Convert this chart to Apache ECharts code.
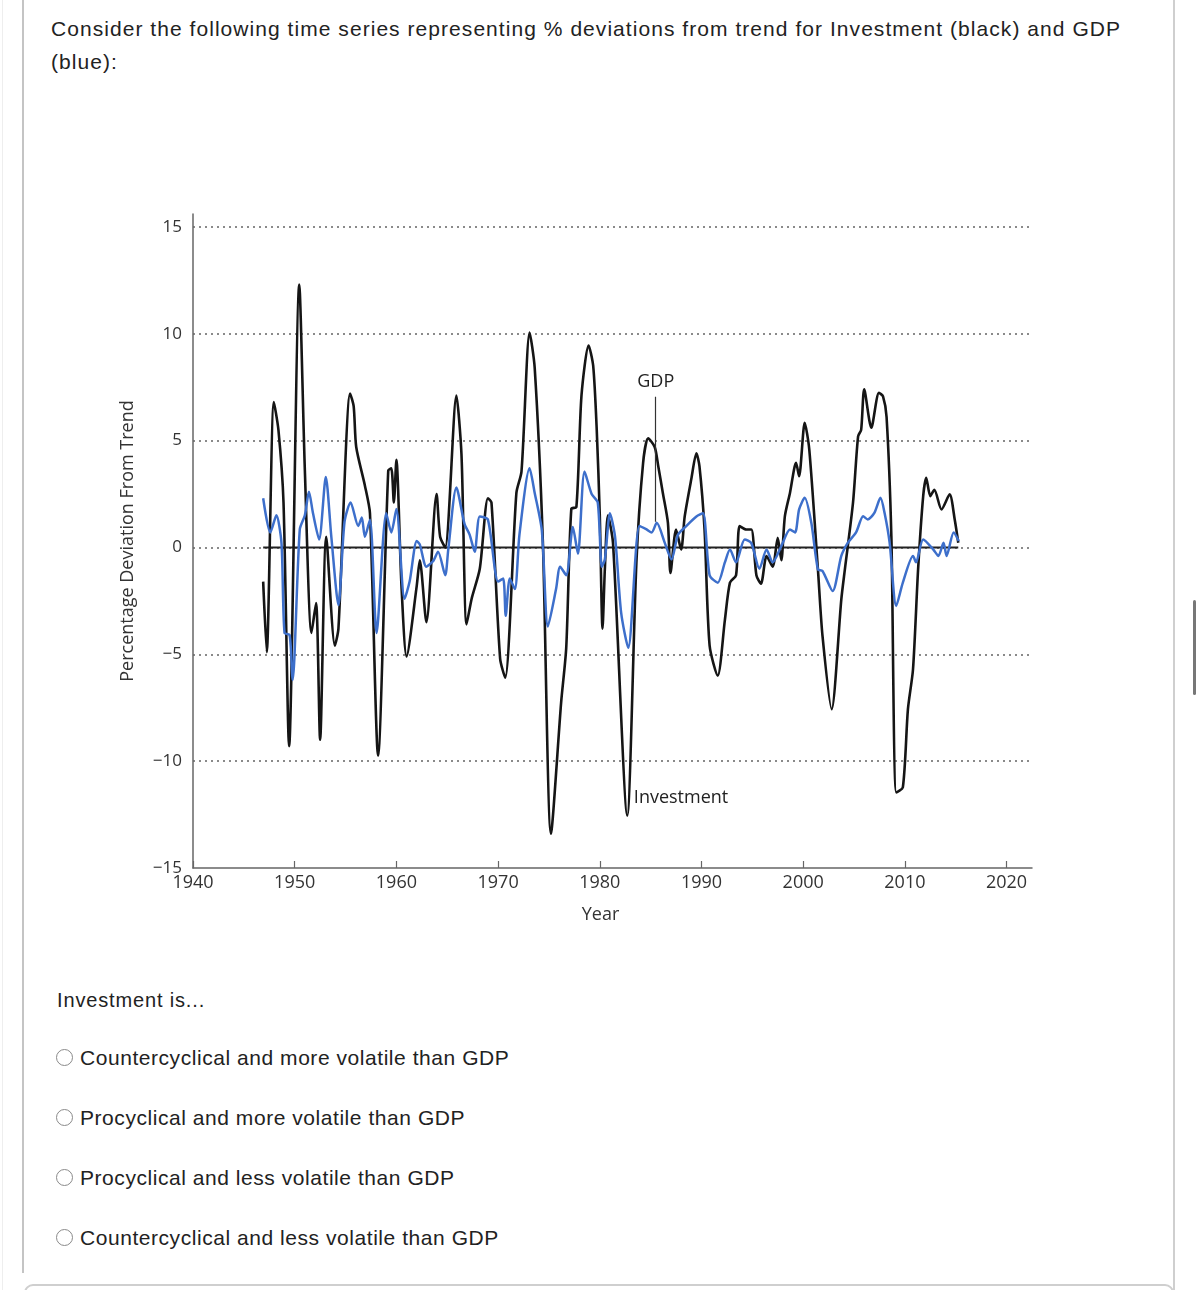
<!DOCTYPE html>
<html>
<head>
<meta charset="utf-8">
<script src="https://cdn.jsdelivr.net/npm/echarts@6/dist/echarts.min.js"></script>
<style>
html,body{margin:0;padding:0;background:#fff;}
body{width:1200px;height:1290px;overflow:hidden;position:relative;font-family:"Liberation Sans",Arial,sans-serif;color:#222;}
#chart{position:absolute;left:0;top:0;width:1200px;height:960px;}
.edgeL{position:absolute;left:22px;top:0;width:2px;height:1273px;background:#c4c4c4;}
.edgeL2{position:absolute;left:2px;top:0;width:1px;height:1290px;background:#eee;}
.edgeR{position:absolute;left:1173px;top:0;width:2px;height:1290px;background:#cfcfcf;}
.box{position:absolute;left:24px;top:1284px;width:1150px;height:30px;border:2px solid #cfcfcf;border-radius:9px;box-sizing:border-box;}
.scroll{position:absolute;left:1193px;top:600px;width:3px;height:95px;background:#777;border-radius:2px;}
.q{position:absolute;left:51px;top:12px;width:1095px;font-size:21px;line-height:33px;letter-spacing:1.05px;color:#222;}
.lead{position:absolute;left:57px;top:988px;font-size:20px;line-height:24px;letter-spacing:0.85px;color:#222;}
.opt{position:absolute;left:80px;font-size:21px;line-height:26px;letter-spacing:0.55px;color:#222;}
.radio{position:absolute;left:56px;width:15px;height:15px;border:1.5px solid #8a8a8a;border-radius:50%;background:#fff;}
</style>
</head>
<body>
<div class="edgeL2"></div>
<div class="edgeL"></div>
<div class="edgeR"></div>
<div class="scroll"></div>
<div class="q">Consider the following time series representing % deviations from trend for Investment (black) and GDP (blue):</div>
<div id="chart"></div>
<div class="lead">Investment is...</div>
<div class="radio" style="top:1049px"></div><div class="opt" style="top:1045px">Countercyclical and more volatile than GDP</div>
<div class="radio" style="top:1109px"></div><div class="opt" style="top:1105px">Procyclical and more volatile than GDP</div>
<div class="radio" style="top:1169px"></div><div class="opt" style="top:1165px">Procyclical and less volatile than GDP</div>
<div class="radio" style="top:1229px"></div><div class="opt" style="top:1225px">Countercyclical and less volatile than GDP</div>
<div class="box"></div>
<script>
// ---- Data ----
const xTicks = [1940, 1950, 1960, 1970, 1980, 1990, 2000, 2010, 2020];
const yTicks = [-15, -10, -5, 0, 5, 10, 15];
const gridValues = [-10, -5, 0, 5, 10, 15];

const invYears = [1946.9,1947.25,1947.95,1948.4,1948.9,1949.45,1950.45,1951.0,1951.65,1952.1,1952.5,1953.1,1953.95,1954.3,1955.45,1955.8,1956.05,1956.9,1957.4,1958.2,1959.2,1959.5,1959.75,1960.0,1960.5,1961.0,1962.0,1962.3,1962.95,1963.95,1964.3,1964.8,1965.9,1966.4,1966.9,1967.4,1968.2,1969.0,1969.35,1970.2,1970.7,1971.8,1972.3,1973.1,1973.6,1974.4,1975.2,1976.2,1976.7,1977.2,1977.7,1978.2,1978.9,1979.35,1979.7,1980.0,1980.27,1980.5,1980.8,1981.3,1982.7,1983.6,1984.26,1984.76,1985.4,1985.75,1986.2,1986.7,1986.95,1987.5,1988.0,1988.35,1989.0,1989.5,1989.8,1990.3,1990.8,1991.6,1992.3,1992.8,1993.4,1993.75,1994.4,1994.9,1995.4,1995.85,1996.4,1997.0,1997.5,1997.85,1998.2,1998.7,1999.3,1999.6,2000.15,2000.6,2001.45,2001.9,2002.8,2003.75,2004.1,2004.9,2005.4,2005.7,2006.0,2006.7,2007.45,2007.85,2008.2,2008.67,2009.15,2009.8,2010.3,2010.8,2011.3,2011.8,2012.1,2012.5,2012.9,2013.6,2014.4,2014.9,2015.25];
const invValues = [-1.6,-4.9,6.8,5.5,2.1,-9.3,12.3,3.6,-4.0,-2.6,-9.0,0.5,-4.6,-3.8,7.2,6.6,4.7,2.9,1.6,-9.75,3.6,3.7,2.1,4.1,-1.8,-5.1,-1.8,-0.6,-3.5,2.5,0.5,0.0,7.1,4.35,-3.6,-2.4,-1.0,2.3,2.1,-5.2,-6.1,2.55,3.55,10.05,8.4,0.3,-13.4,-7.25,-4.7,1.8,1.9,7.1,9.45,8.5,5.5,1.5,-3.8,-1.0,1.5,0.2,-12.55,-0.7,3.96,5.1,4.7,3.8,2.55,1.15,-1.2,0.84,-0.1,1.45,3.2,4.4,3.8,0.84,-4.6,-6.0,-3.4,-1.65,-1.3,1.0,0.84,0.84,-1.3,-1.7,-0.4,-0.9,0.45,-0.6,1.46,2.55,3.96,3.33,5.83,4.58,-1.03,-4.14,-7.57,-2.43,-1.03,2.09,5.2,5.5,7.4,5.6,7.23,7.07,6.1,0.53,-11.46,-11.23,-7.57,-5.7,-1.03,2.4,3.26,2.4,2.7,1.78,2.48,1.31,0.22];

const gdpYears = [1946.9,1947.6,1948.2,1948.7,1949.0,1949.5,1949.8,1950.5,1951.0,1951.4,1951.8,1952.4,1953.06,1953.6,1954.3,1954.9,1955.5,1956.25,1956.6,1956.9,1957.4,1958.05,1959.0,1959.5,1960.0,1960.8,1961.3,1962.0,1962.3,1962.95,1963.6,1964.1,1964.8,1965.1,1965.9,1966.7,1967.2,1967.7,1968.2,1969.0,1970.0,1970.5,1970.75,1971.15,1971.65,1972.1,1973.1,1973.6,1974.3,1974.9,1975.7,1976.1,1976.7,1977.35,1977.85,1978.5,1979.2,1979.8,1980.2,1980.5,1981.0,1981.5,1982.1,1982.8,1983.9,1984.6,1985.1,1985.6,1986.4,1987.05,1987.7,1988.5,1989.5,1990.15,1990.8,1991.6,1992.3,1992.8,1993.4,1994.25,1994.9,1995.7,1996.4,1997.0,1997.85,1998.7,1999.2,1999.6,2000.15,2000.8,2001.45,2001.9,2002.9,2003.75,2004.4,2005.2,2005.9,2006.35,2007.0,2007.6,2008.0,2008.5,2009.15,2009.8,2010.8,2011.1,2011.8,2012.8,2013.3,2013.8,2014.1,2014.8,2015.3];
const gdpValues = [2.3,0.7,1.5,0.2,-4.0,-4.1,-6.2,0.84,1.5,2.6,1.6,0.37,3.3,0.5,-2.7,1.2,2.1,1.0,1.4,0.5,1.3,-4.0,1.6,0.7,1.8,-2.4,-1.6,0.3,0.14,-0.9,-0.65,-0.2,-1.3,-0.1,2.8,1.1,0.6,-0.2,1.45,1.3,-1.6,-1.45,-3.2,-1.45,-1.95,0.6,3.7,2.55,0.8,-3.7,-1.95,-0.9,-1.3,0.95,-0.3,3.55,2.5,2.1,-0.9,-0.56,1.6,0.5,-3.05,-4.7,1.0,0.84,0.7,1.15,0.2,-0.56,0.6,1.0,1.45,1.6,-1.3,-1.65,-0.7,-0.1,-0.7,0.37,0.2,-1.0,-0.1,-0.7,0.06,0.84,0.7,1.78,2.32,1.15,-1.03,-1.1,-2.04,-0.4,0.22,0.7,1.46,1.31,1.62,2.32,1.62,0.22,-2.74,-1.65,-0.4,-0.7,0.37,-0.1,-0.4,0.22,-0.4,0.7,0.3];

const gdpLabel = {text: 'GDP', year: 1985.5, value: 7.75, lineTop: 7.05, lineBottom: 1.2};
const invLabel = {text: 'Investment', year: 1983.3, value: -11.73};

// ---- Build ----
const invData = invYears.map((y, i) => [y, invValues[i]]);
const gdpData = gdpYears.map((y, i) => [y, gdpValues[i]]);
const zeroData = [[invYears[0], 0], [invYears[invYears.length - 1], 0]];
const fmtY = v => (v < 0 ? '\u2212' + (-v) : String(v));
const fmtX = v => String(v);
const FONT = '"Open Sans", "Noto Sans", sans-serif';

const chart = echarts.init(document.getElementById('chart'));
chart.setOption({
  animation: false,
  backgroundColor: 'transparent',
  grid: {left: 193, right: 168, top: 214, bottom: 92, containLabel: false},
  xAxis: {
    type: 'value', min: 1940, max: 2022.5, interval: 10,
    name: 'Year', nameLocation: 'middle', nameGap: 38,
    nameTextStyle: {fontSize: 18, color: '#333', fontFamily: FONT, padding: [0, 24, 0, 0]},
    axisLine: {show: true, onZero: false, lineStyle: {color: '#666', width: 1.5}},
    axisTick: {show: true, inside: true, length: 7, customValues: xTicks, lineStyle: {color: '#666', width: 1.2}},
    axisLabel: {customValues: xTicks, formatter: fmtX, fontSize: 18, color: '#333', fontFamily: FONT, margin: 6},
    splitLine: {show: false}
  },
  yAxis: {
    type: 'value', min: -15, max: 15.6, interval: 5,
    name: 'Percentage Deviation From Trend', nameLocation: 'middle', nameRotate: 90, nameGap: 56,
    nameTextStyle: {fontSize: 18, color: '#333', fontFamily: FONT},
    axisLine: {show: true, lineStyle: {color: '#666', width: 1.5}},
    axisTick: {show: false},
    axisLabel: {customValues: yTicks, formatter: fmtY, fontSize: 17, color: '#333', fontFamily: FONT, margin: 11},
    splitLine: {show: false}
  },
  series: [
    {
      name: 'grid', type: 'line', z: 0, silent: true, symbol: 'none',
      data: zeroData, lineStyle: {width: 0, opacity: 0},
      markLine: {
        silent: true, symbol: 'none', animation: false, z: 0,
        label: {show: false},
        lineStyle: {type: [2, 4], color: '#8a8a8a', width: 1.8},
        data: gridValues.map(v => ({yAxis: v}))
      }
    },
    {
      name: 'zero', type: 'line', z: 2, silent: true, symbol: 'none',
      data: zeroData, lineStyle: {color: '#222', width: 2}
    },
    {
      name: 'Investment', type: 'line', z: 3, symbol: 'none', smooth: 0.25,
      data: invData, lineStyle: {color: '#151515', width: 2.6},
      markPoint: {
        symbol: 'circle', symbolSize: 1, itemStyle: {color: 'rgba(0,0,0,0)'},
        label: {show: true, position: 'right', distance: 0, formatter: invLabel.text, fontSize: 18, color: '#222', fontFamily: FONT},
        data: [{coord: [invLabel.year, invLabel.value]}]
      }
    },
    {
      name: 'GDP', type: 'line', z: 4, symbol: 'none', smooth: 0.25,
      data: gdpData, lineStyle: {color: '#3D6FCB', width: 2.5},
      markLine: {
        silent: true, symbol: 'none', label: {show: false},
        lineStyle: {type: 'solid', color: '#333', width: 1.2},
        data: [[{coord: [gdpLabel.year, gdpLabel.lineTop]}, {coord: [gdpLabel.year, gdpLabel.lineBottom]}]]
      },
      markPoint: {
        symbol: 'circle', symbolSize: 1, itemStyle: {color: 'rgba(0,0,0,0)'},
        label: {show: true, position: 'inside', formatter: gdpLabel.text, fontSize: 18, color: '#222', fontFamily: FONT},
        data: [{coord: [gdpLabel.year, gdpLabel.value]}]
      }
    }
  ]
});
</script>
</body>
</html>
